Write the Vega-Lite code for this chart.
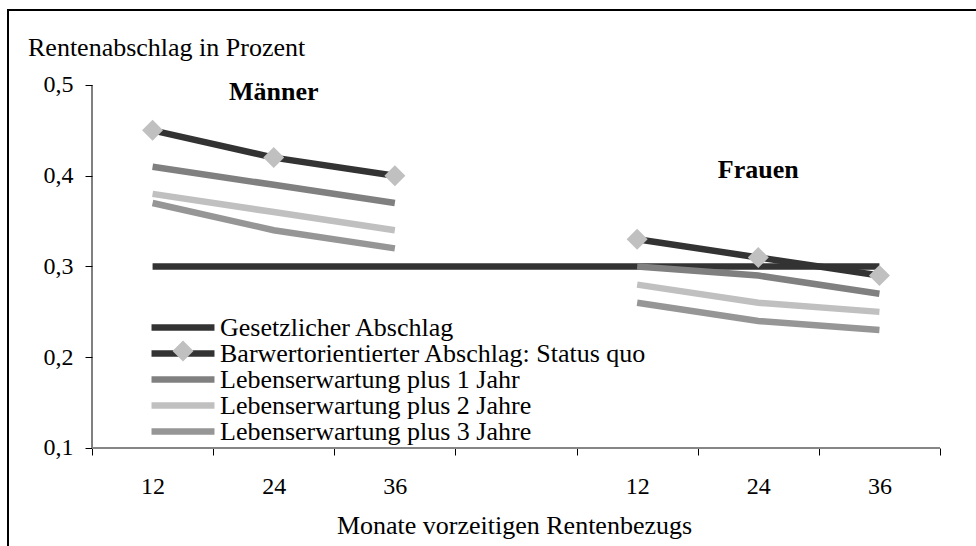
{
  "$schema": "https://vega.github.io/schema/vega-lite/v6.json",
  "autosize": {"type": "none"},
  "padding": {"left": 8, "top": 10, "right": -6, "bottom": -6},
  "width": 974,
  "height": 542,
  "background": "white",
  "config": {
    "view": {"stroke": "black", "strokeWidth": 2},
    "font": "Liberation Serif",
    "axis": {"labelFont": "Liberation Serif", "titleFont": "Liberation Serif", "labelColor": "black", "titleColor": "black", "titleFontWeight": "normal", "grid": false},
    "legend": {"labelFont": "Liberation Serif", "labelColor": "black"},
    "text": {"font": "Liberation Serif"}
  },
  "datasets": {
    "series": [
      {"series": "Gesetzlicher Abschlag", "grp": "alle", "cat": "M12", "v": 0.3},
      {"series": "Gesetzlicher Abschlag", "grp": "alle", "cat": "M24", "v": 0.3},
      {"series": "Gesetzlicher Abschlag", "grp": "alle", "cat": "M36", "v": 0.3},
      {"series": "Gesetzlicher Abschlag", "grp": "alle", "cat": "gap", "v": 0.3},
      {"series": "Gesetzlicher Abschlag", "grp": "alle", "cat": "F12", "v": 0.3},
      {"series": "Gesetzlicher Abschlag", "grp": "alle", "cat": "F24", "v": 0.3},
      {"series": "Gesetzlicher Abschlag", "grp": "alle", "cat": "F36", "v": 0.3},
      {"series": "Barwertorientierter Abschlag: Status quo", "grp": "Männer", "cat": "M12", "v": 0.45},
      {"series": "Barwertorientierter Abschlag: Status quo", "grp": "Männer", "cat": "M24", "v": 0.42},
      {"series": "Barwertorientierter Abschlag: Status quo", "grp": "Männer", "cat": "M36", "v": 0.40},
      {"series": "Barwertorientierter Abschlag: Status quo", "grp": "Frauen", "cat": "F12", "v": 0.33},
      {"series": "Barwertorientierter Abschlag: Status quo", "grp": "Frauen", "cat": "F24", "v": 0.31},
      {"series": "Barwertorientierter Abschlag: Status quo", "grp": "Frauen", "cat": "F36", "v": 0.29},
      {"series": "Lebenserwartung plus 1 Jahr", "grp": "Männer", "cat": "M12", "v": 0.41},
      {"series": "Lebenserwartung plus 1 Jahr", "grp": "Männer", "cat": "M24", "v": 0.39},
      {"series": "Lebenserwartung plus 1 Jahr", "grp": "Männer", "cat": "M36", "v": 0.37},
      {"series": "Lebenserwartung plus 1 Jahr", "grp": "Frauen", "cat": "F12", "v": 0.30},
      {"series": "Lebenserwartung plus 1 Jahr", "grp": "Frauen", "cat": "F24", "v": 0.29},
      {"series": "Lebenserwartung plus 1 Jahr", "grp": "Frauen", "cat": "F36", "v": 0.27},
      {"series": "Lebenserwartung plus 2 Jahre", "grp": "Männer", "cat": "M12", "v": 0.38},
      {"series": "Lebenserwartung plus 2 Jahre", "grp": "Männer", "cat": "M24", "v": 0.36},
      {"series": "Lebenserwartung plus 2 Jahre", "grp": "Männer", "cat": "M36", "v": 0.34},
      {"series": "Lebenserwartung plus 2 Jahre", "grp": "Frauen", "cat": "F12", "v": 0.28},
      {"series": "Lebenserwartung plus 2 Jahre", "grp": "Frauen", "cat": "F24", "v": 0.26},
      {"series": "Lebenserwartung plus 2 Jahre", "grp": "Frauen", "cat": "F36", "v": 0.25},
      {"series": "Lebenserwartung plus 3 Jahre", "grp": "Männer", "cat": "M12", "v": 0.37},
      {"series": "Lebenserwartung plus 3 Jahre", "grp": "Männer", "cat": "M24", "v": 0.34},
      {"series": "Lebenserwartung plus 3 Jahre", "grp": "Männer", "cat": "M36", "v": 0.32},
      {"series": "Lebenserwartung plus 3 Jahre", "grp": "Frauen", "cat": "F12", "v": 0.26},
      {"series": "Lebenserwartung plus 3 Jahre", "grp": "Frauen", "cat": "F24", "v": 0.24},
      {"series": "Lebenserwartung plus 3 Jahre", "grp": "Frauen", "cat": "F36", "v": 0.23}
    ],
    "labels": [
      {"cat": "M24", "v": 0.484, "label": "Männer"},
      {"cat": "F24", "v": 0.397, "label": "Frauen"}
    ],
    "yline": [{"cat": "M12", "lo": 0.1, "hi": 0.5}],
    "xline": [{"cat": "M12", "cat2": "F36", "v": 0.1}]
  },
  "layer": [
    {
      "data": {"name": "yline"},
      "mark": {"type": "rule", "color": "black", "strokeWidth": 1},
      "encoding": {
        "x": {"field": "cat", "type": "nominal", "bandPosition": 0,
          "scale": {"domain": ["M12", "M24", "M36", "gap", "F12", "F24", "F36"], "paddingInner": 0, "paddingOuter": 0.52005, "align": 0.6667},
          "axis": {
            "labelExpr": "isString(datum.value) && datum.value != 'gap' ? substring(datum.value, 1) : ''",
            "tickBand": "extent", "tickSize": 7, "tickColor": "black", "domain": false,
            "labelAngle": 0, "labelFont": "Liberation Serif", "labelFontSize": 24, "labelPadding": 19, "offset": -104,
            "title": "Monate vorzeitigen Rentenbezugs", "titleX": 506, "titleY": 85.3,
            "titleBaseline": "alphabetic", "titleAlign": "center", "titleFont": "Liberation Serif", "titleFontSize": 26
          }
        },
        "y": {"field": "lo", "type": "quantitative",
          "scale": {"domain": [-0.0146, 0.58264], "nice": false, "zero": false},
          "axis": {
            "values": [0.1, 0.2, 0.3, 0.4, 0.5], "domain": false, "tickSize": 7, "tickColor": "black",
            "labelFont": "Liberation Serif", "labelFontSize": 24, "labelPadding": 12,
            "labelExpr": "replace(format(datum.value, '.1f'), '.', ',')",
            "offset": -84,
            "title": "Rentenabschlag in Prozent", "titleAngle": 0, "titleAlign": "left",
            "titleBaseline": "alphabetic", "titleX": -64.5, "titleY": 45.3, "titleFont": "Liberation Serif", "titleFontSize": 26
          }
        },
        "y2": {"field": "hi"}
      }
    },
    {
      "data": {"name": "xline"},
      "mark": {"type": "rule", "color": "#868686", "strokeWidth": 2},
      "encoding": {
        "x": {"field": "cat", "type": "nominal", "bandPosition": 0},
        "x2": {"field": "cat2", "bandPosition": 1},
        "y": {"field": "v", "type": "quantitative"}
      }
    },
    {
      "data": {"name": "series"},
      "transform": [{"filter": "datum.series == 'Gesetzlicher Abschlag'"}],
      "mark": {"type": "line", "strokeWidth": 6.5},
      "encoding": {
        "x": {"field": "cat", "type": "nominal"},
        "y": {"field": "v", "type": "quantitative"},
        "detail": {"field": "grp"},
        "color": {"field": "series", "type": "nominal",
          "scale": {
            "domain": ["Gesetzlicher Abschlag", "Barwertorientierter Abschlag: Status quo", "Lebenserwartung plus 1 Jahr", "Lebenserwartung plus 2 Jahre", "Lebenserwartung plus 3 Jahre"],
            "range": ["#333333", "#333333", "#808080", "#c0c0c0", "#969696"]
          },
          "legend": {
            "orient": "none", "legendX": 162, "legendY": 304.5, "title": null,
            "symbolType": "M-3.818,0H3.818", "symbolSize": 272, "symbolStrokeWidth": 6.5,
            "labelFont": "Liberation Serif", "labelFontSize": 26, "labelOffset": 24, "rowPadding": 0, "padding": 0, "labelLimit": 1000
          }
        }
      }
    },
    {
      "data": {"name": "series"},
      "transform": [{"filter": "datum.series != 'Gesetzlicher Abschlag'"}],
      "mark": {"type": "line", "strokeWidth": 6.5},
      "encoding": {
        "x": {"field": "cat", "type": "nominal"},
        "y": {"field": "v", "type": "quantitative"},
        "detail": {"field": "grp"},
        "color": {"field": "series", "type": "nominal"}
      }
    },
    {
      "data": {"name": "series"},
      "transform": [{"filter": "datum.series == 'Barwertorientierter Abschlag: Status quo'"}],
      "mark": {"type": "point", "filled": true, "size": 441, "color": "#c0c0c0", "opacity": 1, "strokeWidth": 0},
      "encoding": {
        "x": {"field": "cat", "type": "nominal"},
        "y": {"field": "v", "type": "quantitative"},
        "shape": {"field": "series", "type": "nominal",
          "scale": {"domain": ["Barwertorientierter Abschlag: Status quo"], "range": ["diamond"]},
          "legend": {
            "orient": "none", "legendX": 164.5, "legendY": 330.5, "title": null,
            "symbolSize": 441, "symbolFillColor": "#c0c0c0", "symbolStrokeWidth": 0, "symbolOpacity": 1,
            "labelExpr": "''", "labelFontSize": 1, "padding": 0
          }
        }
      }
    },
    {
      "data": {"name": "labels"},
      "mark": {"type": "text", "font": "Liberation Serif", "fontWeight": "bold", "fontSize": 26, "baseline": "alphabetic", "align": "center", "color": "black"},
      "encoding": {
        "x": {"field": "cat", "type": "nominal", "bandPosition": 0.5},
        "y": {"field": "v", "type": "quantitative"},
        "text": {"field": "label"}
      }
    }
  ]
}
